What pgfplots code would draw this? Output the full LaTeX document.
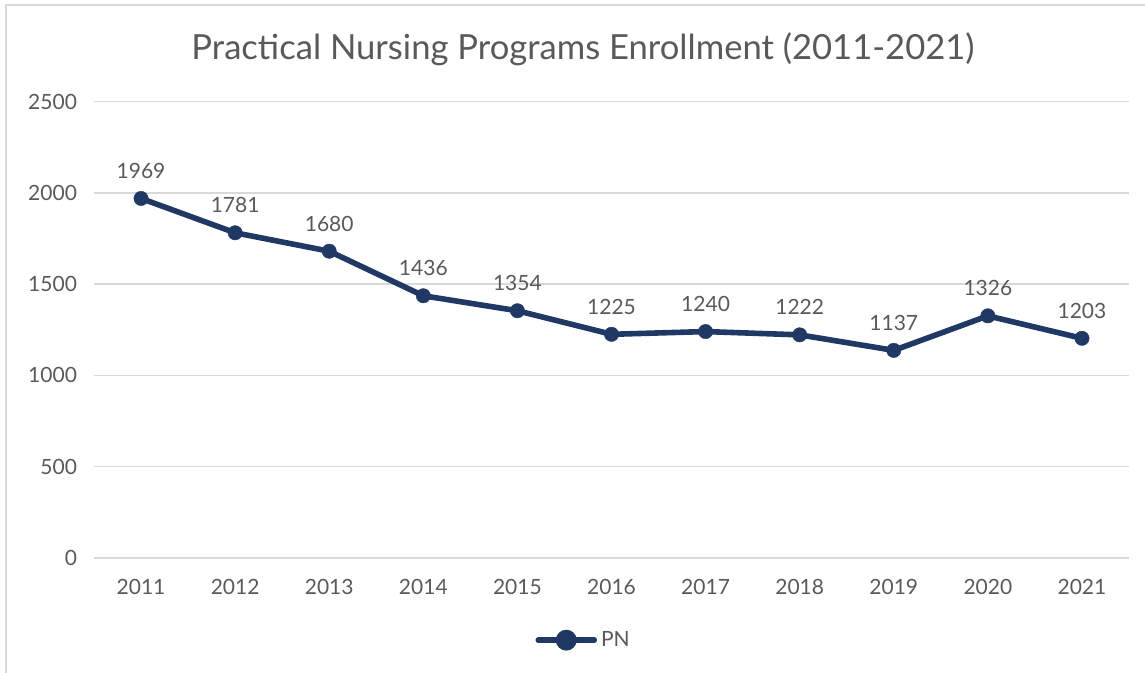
\documentclass[border=0pt]{standalone}
\usepackage{fontspec}
\setmainfont{Lato}
\usepackage{pgfplots}
\pgfplotsset{compat=1.18}
\definecolor{navy}{HTML}{203864}
\definecolor{txt}{HTML}{595959}
\definecolor{grd}{HTML}{D9D9D9}
\begin{document}
\begin{tikzpicture}[x=0.5pt,y=0.5pt]
\useasboundingbox (0,0) rectangle (1145,673);
\draw[grd,line width=1.2pt] (6,0) -- (6,668) -- (1145,668);
\node[txt,font=\fontsize{17.3}{20}\selectfont] at (583,624) {Practical Nursing Programs Enrollment (2011-2021)};
\begin{axis}[
  at={(47pt,57.5pt)}, anchor=south west,
  scale only axis, width=517.5pt, height=228.25pt,
  xmin=-0.5, xmax=10.5, ymin=0, ymax=2500,
  xtick={0,...,10},
  xticklabels={2011,2012,2013,2014,2015,2016,2017,2018,2019,2020,2021},
  ytick={0,500,...,2500},
  axis line style={draw=none},
  axis x line*=bottom,
  major tick length=0pt,
  ymajorgrids, grid style={grd,line width=0.8pt},
  tick label style={txt,font=\fontsize{10.5}{12}\selectfont},
  /pgf/number format/assume math mode=true,
  /pgf/number format/set thousands separator={},
  yticklabel style={xshift=-5pt},
  xticklabel style={yshift=-7pt},
  nodes near coords,
  every node near coord/.append style={txt,font=\fontsize{10.5}{12}\selectfont,yshift=6.5pt},
  legend style={draw=none,fill=none,at={(0.474,-0.18)},anchor=center,font=\fontsize{10.5}{12}\selectfont,text=txt},
  legend image code/.code={\draw[navy,line width=2.8pt,line cap=round] (0pt,0pt) -- (28pt,0pt); \fill[navy] (14pt,0pt) circle (3.8pt);},
]
\addplot[navy,line width=2.8pt,mark=*,mark size=3.6pt,mark options={fill=navy,draw=navy,line width=0.2pt}] coordinates {
(0,1969)(1,1781)(2,1680)(3,1436)(4,1354)(5,1225)(6,1240)(7,1222)(8,1137)(9,1326)(10,1203)};
\addlegendentry{PN}
\end{axis}
\end{tikzpicture}
\end{document}
